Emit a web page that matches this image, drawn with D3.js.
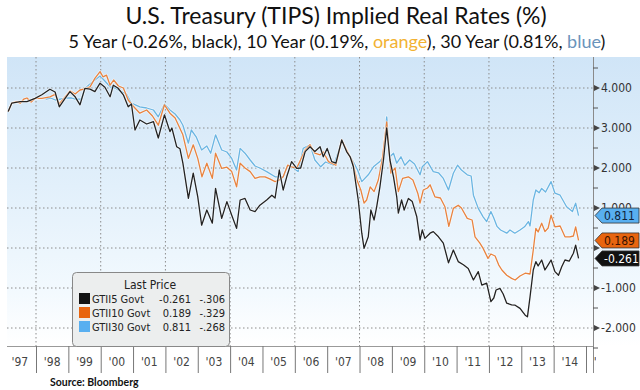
<!DOCTYPE html>
<html>
<head>
<meta charset="utf-8">
<script src="https://cdn.jsdelivr.net/npm/d3@7"></script>
<style>
	body { margin: 0; background: #fff; }
	svg { display: block; }
	.cond { font-family: "Liberation Sans Narrow", "DejaVu Sans Condensed", "Roboto", sans-serif; }
</style>
</head>
<body>
<svg id="chart" width="640" height="390"></svg>
<script>
'use strict';

// GTII5 (5 year, black)
var t5 = [1997.14, 1997.25, 1997.51, 1997.72, 1997.97,
	1998.18, 1998.43, 1998.59, 1998.72, 1998.9,
	1999.05, 1999.21, 1999.36, 1999.51, 1999.67, 1999.82, 1999.98,
	2000.13, 2000.29, 2000.39, 2000.53, 2000.7, 2000.85, 2000.95,
	2001.06, 2001.21, 2001.42, 2001.63, 2001.78, 2001.97,
	2002.14, 2002.2, 2002.35, 2002.45, 2002.54, 2002.71, 2002.86,
	2003.0, 2003.12, 2003.28, 2003.45, 2003.55, 2003.74, 2003.9,
	2004.05, 2004.2, 2004.31, 2004.46, 2004.62, 2004.77, 2004.92,
	2005.13, 2005.29, 2005.39, 2005.52, 2005.64, 2005.75, 2005.9,
	2006.06, 2006.18, 2006.32, 2006.47, 2006.62, 2006.78, 2006.88,
	2007.0, 2007.14, 2007.27, 2007.45, 2007.6, 2007.71, 2007.81, 2007.96,
	2008.07, 2008.14, 2008.27, 2008.35, 2008.45, 2008.53, 2008.63, 2008.74, 2008.84, 2008.94,
	2009.05, 2009.15, 2009.2, 2009.3, 2009.38, 2009.51, 2009.63, 2009.77, 2009.87, 2009.94,
	2010.02, 2010.18, 2010.28, 2010.44, 2010.59, 2010.75, 2010.9,
	2011.05, 2011.21, 2011.36, 2011.52, 2011.67, 2011.78, 2011.93,
	2012.06, 2012.15, 2012.22, 2012.34, 2012.44, 2012.55, 2012.7, 2012.81, 2012.96,
	2013.12, 2013.19, 2013.27, 2013.37, 2013.45, 2013.52, 2013.63, 2013.73, 2013.83, 2013.92,
	2014.04, 2014.15, 2014.25, 2014.35, 2014.48, 2014.61, 2014.68, 2014.77];
var v5 = [3.41, 3.62, 3.66, 3.66, 3.74,
	3.83, 3.97, 3.9, 3.53, 3.74,
	3.91, 3.78, 3.58, 3.99, 3.97, 3.91, 4.12,
	4.02, 3.78, 4.07, 4.0, 3.83, 3.53, 3.6,
	2.95, 3.2, 3.1, 3.16, 2.75, 3.33,
	2.91, 3.0, 2.53, 2.48, 2.12, 1.24, 1.87,
	1.28, 0.57, 0.95, 0.62, 1.49, 0.74, 1.16,
	0.82, 0.49, 1.2, 1.24, 0.95, 0.91, 1.07,
	1.2, 1.32, 1.25, 1.95, 1.45, 1.78, 2.16,
	1.99, 2.0, 2.41, 2.53, 2.41, 2.53, 2.28,
	2.49, 2.16, 2.12, 2.7, 2.41, 2.28, 2.03, 1.2,
	0.37, -0.01, 0.28, 0.95, 0.7, 1.03, 1.53, 2.2, 3.0, 2.2,
	1.78, 1.28, 0.87, 1.2, 0.95, 1.24, 1.16, 0.78, 0.2, 0.45,
	0.24, 0.37, 0.41, 0.28, 0.12, -0.37, -0.05,
	-0.34, -0.42, -0.51, -0.8, -0.59, -0.93, -0.88,
	-1.34, -1.25, -1.05, -1.01, -1.15, -1.38, -1.42, -1.43, -1.51,
	-1.68, -1.72, -1.22, -0.55, -0.34, -0.45, -0.3, -0.55, -0.42, -0.3,
	-0.59, -0.68, -0.47, -0.3, -0.33, -0.13, 0.07, -0.26];

// GTII10 (10 year, orange)
var t10 = [1997.14, 1997.25, 1997.4, 1997.51, 1997.62, 1997.72, 1997.85, 1997.97,
	1998.18, 1998.43, 1998.59, 1998.72, 1998.9,
	1999.05, 1999.21, 1999.36, 1999.51, 1999.67, 1999.82, 1999.98,
	2000.07, 2000.18, 2000.29, 2000.4, 2000.55, 2000.7, 2000.85,
	2001.0, 2001.21, 2001.42, 2001.6, 2001.78, 2001.97,
	2002.14, 2002.3, 2002.54, 2002.71, 2002.86,
	2003.0, 2003.13, 2003.28, 2003.45, 2003.55, 2003.74, 2003.9,
	2004.05, 2004.2, 2004.31, 2004.46, 2004.62, 2004.77, 2004.92,
	2005.08, 2005.24, 2005.39, 2005.52, 2005.64, 2005.78, 2005.9,
	2006.06, 2006.32, 2006.47, 2006.62, 2006.78, 2006.88,
	2007.04, 2007.27, 2007.45, 2007.6, 2007.78, 2007.92,
	2008.04, 2008.14, 2008.22, 2008.33, 2008.45, 2008.58, 2008.7, 2008.84, 2008.97,
	2009.1, 2009.2, 2009.33, 2009.51, 2009.65, 2009.8, 2009.87, 2009.97,
	2010.1, 2010.18, 2010.33, 2010.5, 2010.64, 2010.76, 2010.9,
	2011.05, 2011.15, 2011.33, 2011.48, 2011.57, 2011.72, 2011.82, 2011.97,
	2012.06, 2012.19, 2012.3, 2012.4, 2012.55, 2012.7, 2012.81, 2012.96,
	2013.12, 2013.27, 2013.37, 2013.45, 2013.52, 2013.63, 2013.73, 2013.83, 2013.92,
	2014.04, 2014.2, 2014.35, 2014.5, 2014.61, 2014.68, 2014.77];
var v10 = [3.41, 3.62, 3.66, 3.62, 3.72, 3.75, 3.65, 3.74,
	3.74, 3.78, 3.84, 3.6, 3.78,
	3.93, 3.85, 3.95, 3.98, 4.03, 4.24, 4.41,
	4.28, 4.32, 4.07, 4.2, 4.05, 4.0, 3.7,
	3.55, 3.37, 3.45, 3.3, 3.07, 3.58,
	3.37, 3.25, 2.83, 2.24, 2.58,
	2.24, 1.78, 2.12, 1.74, 2.37, 1.99, 2.02,
	1.91, 1.53, 2.12, 2.0, 1.91, 1.74, 1.78,
	1.78, 1.72, 1.66, 1.7, 1.78, 2.07, 2.03,
	2.0, 2.45, 2.58, 2.37, 2.33, 2.4,
	2.16, 2.07, 2.7, 2.45, 2.16, 1.7,
	1.45, 1.12, 1.2, 1.53, 1.41, 1.7, 2.2, 3.15, 1.87,
	2.0, 1.41, 1.74, 1.78, 1.7, 1.37, 1.12, 1.45,
	1.5, 1.58, 1.28, 1.25, 1.03, 0.54, 0.99,
	1.07, 1.0, 0.74, 0.7, 0.28, 0.12, -0.01, -0.26,
	-0.15, -0.2, -0.42, -0.55, -0.68, -0.76, -0.8, -0.7,
	-0.63, -0.65, -0.05, 0.49, 0.4, 0.62, 0.41, 0.5, 0.82,
	0.53, 0.55, 0.28, 0.28, 0.3, 0.53, 0.19];

// GTII30 (30 year, blue)
var t30 = [1998.3, 1998.45, 1998.6, 1998.75, 1998.95,
	1999.1, 1999.21, 1999.4, 1999.51, 1999.67, 1999.82, 1999.98,
	2000.1, 2000.29, 2000.45, 2000.6, 2000.8, 2000.95,
	2001.21, 2001.42, 2001.63, 2001.78, 2001.97,
	2002.14, 2002.3, 2002.45, 2002.54, 2002.71, 2002.8, 2002.95,
	2003.12, 2003.28, 2003.4, 2003.55, 2003.74, 2003.9,
	2004.05, 2004.2, 2004.31, 2004.46, 2004.62, 2004.77, 2004.92,
	2005.13, 2005.39, 2005.64, 2005.78, 2005.9,
	2006.1, 2006.26, 2006.47, 2006.62, 2006.8, 2006.95,
	2007.2, 2007.45, 2007.6, 2007.78, 2007.94,
	2008.07, 2008.27, 2008.43, 2008.63, 2008.74, 2008.84, 2008.94,
	2009.05, 2009.15, 2009.28, 2009.4, 2009.55, 2009.7, 2009.87, 2009.94,
	2010.1, 2010.28, 2010.44, 2010.59, 2010.75, 2010.9,
	2011.03, 2011.15, 2011.33, 2011.45, 2011.52, 2011.67, 2011.82, 2011.93,
	2012.06, 2012.15, 2012.25, 2012.36, 2012.55, 2012.65, 2012.8, 2012.96,
	2013.1, 2013.22, 2013.27, 2013.37, 2013.45, 2013.55, 2013.63, 2013.75, 2013.92,
	2014.04, 2014.2, 2014.4, 2014.58, 2014.68, 2014.77];
var v30 = [3.72, 3.75, 3.7, 3.72, 3.75,
	3.75, 3.72, 3.72, 3.99, 4.1, 4.2, 4.3,
	4.2, 4.03, 4.0, 3.92, 3.85, 3.62,
	3.53, 3.5, 3.45, 3.28, 3.6,
	3.45, 3.35, 3.2, 3.07, 2.62, 2.95, 2.78,
	2.45, 2.55, 2.37, 2.83, 2.45, 2.4,
	2.24, 1.95, 2.49, 2.37, 2.2, 2.05, 2.0,
	1.91, 1.78, 1.78, 2.07, 2.03,
	1.91, 2.49, 2.58, 2.2, 2.03, 2.15,
	2.07, 2.66, 2.45, 2.2, 1.95,
	1.66, 1.83, 2.03, 2.16, 2.3, 3.28, 2.28,
	2.37, 2.12, 2.28, 2.07, 2.2, 2.1, 1.83, 2.03,
	2.16, 1.91, 1.88, 1.74, 1.45, 1.87,
	2.07, 1.95, 1.83, 1.8, 1.32, 0.99, 0.78, 0.66,
	0.91, 0.75, 0.54, 0.45, 0.37, 0.45, 0.37, 0.45,
	0.53, 0.66, 0.55, 1.2, 1.45, 1.38, 1.49, 1.4, 1.66,
	1.37, 1.32, 1.03, 0.91, 1.12, 0.81];

var yTicks = [-2, -1, 0, 1, 2, 3, 4];
var yearLabels = ["'97", "'98", "'99", "'00", "'01", "'02", "'03", "'04", "'05", "'06", "'07", "'08", "'09", "'10", "'11", "'12", "'13", "'14", "'15"];
var gridYears = [1998, 2000, 2002, 2004, 2006, 2008, 2010, 2012, 2014];

var legendNames = ["GTII5 Govt", "GTII10 Govt", "GTII30 Govt"];
var legendLast = ["-0.261", "0.189", "0.811"];
var legendChange = ["-.306", "-.329", "-.268"];
var badgeValues = [0.811, 0.189, -0.261];

var colors = { black: "#232323", orange: "#e9833f", blue: "#6ab5e2" };

var svg = d3.select("#chart");
var plot = { left: 7, right: 593, top: 57, bottom: 346 };

var x = d3.scaleLinear().domain([1998, 2015]).range([36, 586]);
var y = d3.scaleLinear().domain([-2, 4]).range([328, 88]);

var defs = svg.append("defs");
var grad = defs.append("linearGradient")
	.attr("id", "bg").attr("x1", 0).attr("y1", 0).attr("x2", 0).attr("y2", 1);
grad.append("stop").attr("offset", "0%").attr("stop-color", "#d0e5f7");
grad.append("stop").attr("offset", "45%").attr("stop-color", "#e2f0fb");
grad.append("stop").attr("offset", "80%").attr("stop-color", "#f2f9fe");
grad.append("stop").attr("offset", "100%").attr("stop-color", "#ffffff");

defs.append("clipPath").attr("id", "plotClip")
	.append("rect")
	.attr("x", plot.left).attr("y", plot.top)
	.attr("width", plot.right - plot.left).attr("height", plot.bottom - plot.top);

defs.append("clipPath").attr("id", "axisClip")
	.append("rect")
	.attr("x", 0).attr("y", plot.bottom)
	.attr("width", 596).attr("height", 40);

// only the top of the 1.000 label shows above the blue badge
defs.append("clipPath").attr("id", "oneClip")
	.append("rect")
	.attr("x", plot.right).attr("y", y(1) - 10)
	.attr("width", 50).attr("height", y(badgeValues[0]) - 7.5 - (y(1) - 10));

// background
svg.append("rect")
	.attr("x", plot.left).attr("y", plot.top)
	.attr("width", 640 - plot.left).attr("height", plot.bottom - plot.top)
	.attr("fill", "url(#bg)");

// title
svg.append("text")
	.attr("x", 336).attr("y", 24)
	.attr("text-anchor", "middle")
	.style("font-family", "Lato, 'Open Sans', sans-serif")
	.style("font-size", "23px")
	.attr("fill", "#111")
	.text("U.S. Treasury (TIPS) Implied Real Rates (%)");

var sub = svg.append("text")
	.attr("x", 337).attr("y", 48)
	.attr("text-anchor", "middle")
	.style("font-family", "Lato, 'Open Sans', sans-serif")
	.style("font-size", "18px")
	.attr("fill", "#111");
sub.append("tspan").text("5 Year (-0.26%, black), 10 Year (0.19%, ");
sub.append("tspan").attr("fill", "#f2b233").text("orange");
sub.append("tspan").text("), 30 Year (0.81%, ");
sub.append("tspan").attr("fill", "#6a93bb").text("blue");
sub.append("tspan").text(")");

// grid
var grid = svg.append("g");
grid.selectAll(".hg")
	.data(yTicks)
	.enter().append("line")
	.attr("x1", plot.left).attr("x2", plot.right)
	.attr("y1", function(d) { return y(d); })
	.attr("y2", function(d) { return y(d); })
	.attr("stroke", "#8c8c8c")
	.attr("stroke-width", 1)
	.attr("stroke-dasharray", "1.5,2.5");

grid.selectAll(".vg")
	.data(gridYears)
	.enter().append("line")
	.attr("x1", function(d) { return x(d); })
	.attr("x2", function(d) { return x(d); })
	.attr("y1", plot.top).attr("y2", plot.bottom)
	.attr("stroke", "#8c8c8c")
	.attr("stroke-width", 1)
	.attr("stroke-dasharray", "1.5,2.5");

// lines
var line = d3.line()
	.x(function(d) { return x(d[0]); })
	.y(function(d) { return y(d[1]); });

var series = [
	{ data: d3.zip(t30, v30), color: colors.blue },
	{ data: d3.zip(t10, v10), color: colors.orange },
	{ data: d3.zip(t5, v5), color: colors.black }
];

var lines = svg.append("g").attr("clip-path", "url(#plotClip)");
series.forEach(function(s) {
	lines.append("path")
		.attr("d", line(s.data))
		.attr("fill", "none")
		.attr("stroke", "#ffffff")
		.attr("stroke-opacity", 0.55)
		.attr("stroke-width", 2.8)
		.attr("stroke-linejoin", "round");
	lines.append("path")
		.attr("d", line(s.data))
		.attr("fill", "none")
		.attr("stroke", s.color)
		.attr("stroke-width", 1.3)
		.attr("stroke-linejoin", "round");
});

// right axis
var axis = svg.append("g");
axis.append("line")
	.attr("x1", plot.right + 0.5).attr("x2", plot.right + 0.5)
	.attr("y1", plot.top).attr("y2", 373)
	.attr("stroke", "#8a8a8a");

var minor = d3.range(-2.5, 4.6, 1);
axis.selectAll(".mt")
	.data(minor)
	.enter().append("line")
	.attr("x1", plot.right).attr("x2", plot.right + 5)
	.attr("y1", function(d) { return y(d); })
	.attr("y2", function(d) { return y(d); })
	.attr("stroke", "#555");

axis.selectAll(".tri")
	.data(yTicks)
	.enter().append("path")
	.attr("d", function(d) {
		var yy = y(d);
		return "M" + (plot.right + 1) + "," + (yy - 3) + "L" + (plot.right + 7) + "," + yy + "L" + (plot.right + 1) + "," + (yy + 3) + "Z";
	})
	.attr("fill", "#444");

axis.selectAll(".tl")
	.data(yTicks.filter(function(d) { return d !== 0; }))
	.enter().append("text")
	.attr("class", "cond")
	.attr("x", plot.right + 8)
	.attr("y", function(d) { return y(d) + 4; })
	.attr("clip-path", function(d) { return d === 1 ? "url(#oneClip)" : null; })
	.style("font-size", "12px")
	.attr("fill", "#333")
	.text(function(d) { return d3.format(".3f")(d).replace("−", "-"); });

// x axis band
var xa = svg.append("g");
xa.append("line")
	.attr("x1", plot.left).attr("x2", plot.right)
	.attr("y1", plot.bottom + 0.5).attr("y2", plot.bottom + 0.5)
	.attr("stroke", "#9a9a9a");

xa.selectAll(".sep")
	.data(d3.range(1998, 2016))
	.enter().append("line")
	.attr("x1", function(d) { return x(d) + 0.5; })
	.attr("x2", function(d) { return x(d) + 0.5; })
	.attr("y1", plot.bottom).attr("y2", 373)
	.attr("stroke", "#777");

xa.append("g").attr("clip-path", "url(#axisClip)")
	.selectAll("text")
	.data(yearLabels)
	.enter().append("text")
	.attr("class", "cond")
	.attr("x", function(d, i) { return x(1997 + i + 0.5); })
	.attr("y", 366)
	.attr("text-anchor", "middle")
	.style("font-size", "12px")
	.attr("fill", "#444")
	.text(function(d) { return d; });

// value badges on the axis
var badgeFill = ["#58aff0", "#e8650f", "#111111"];
var badgeText = ["#10233a", "#3a1200", "#ffffff"];
var badges = svg.append("g");
badgeValues.forEach(function(v, i) {
	var yy = y(v);
	badges.append("path")
		.attr("d", "M" + (plot.right + 2) + "," + yy +
			"L" + (plot.right + 9) + "," + (yy - 7.5) +
			"L639," + (yy - 7.5) + "L639," + (yy + 7.5) +
			"L" + (plot.right + 9) + "," + (yy + 7.5) + "Z")
		.attr("fill", badgeFill[i])
		.attr("stroke", "#333")
		.attr("stroke-width", 0.8);
	badges.append("text")
		.attr("class", "cond")
		.attr("x", plot.right + 11)
		.attr("y", yy + 4.5)
		.style("font-size", "12px")
		.attr("fill", badgeText[i])
		.text(d3.format(".3f")(v).replace("−", "-"));
});

// legend
var lg = svg.append("g");
lg.append("rect")
	.attr("x", 72.5).attr("y", 272.5)
	.attr("width", 157).attr("height", 74)
	.attr("rx", 4)
	.attr("fill", "#eceeee")
	.attr("stroke", "#888");
lg.append("text")
	.attr("class", "cond")
	.attr("x", 150).attr("y", 289)
	.attr("text-anchor", "middle")
	.style("font-size", "12px")
	.attr("fill", "#222")
	.text("Last Price");

var swatch = ["#111111", "#e8650f", "#58aff0"];
legendNames.forEach(function(name, i) {
	var by = 303 + i * 14;
	lg.append("rect")
		.attr("x", 79).attr("y", by - 10)
		.attr("width", 11).attr("height", 11)
		.attr("fill", swatch[i]);
	lg.append("text").attr("class", "cond")
		.attr("x", 92).attr("y", by)
		.style("font-size", "11px").attr("fill", "#222")
		.text(name);
	lg.append("text").attr("class", "cond")
		.attr("x", 191).attr("y", by)
		.attr("text-anchor", "end")
		.style("font-size", "11px").attr("fill", "#222")
		.text(legendLast[i]);
	lg.append("text").attr("class", "cond")
		.attr("x", 225).attr("y", by)
		.attr("text-anchor", "end")
		.style("font-size", "11px").attr("fill", "#222")
		.text(legendChange[i]);
});

// source
svg.append("text")
	.attr("x", 50).attr("y", 386)
	.style("font-family", "Lato, sans-serif")
	.style("font-size", "10.5px")
	.style("font-weight", "bold")
	.attr("fill", "#111")
	.text("Source:  Bloomberg");
</script>
</body>
</html>
